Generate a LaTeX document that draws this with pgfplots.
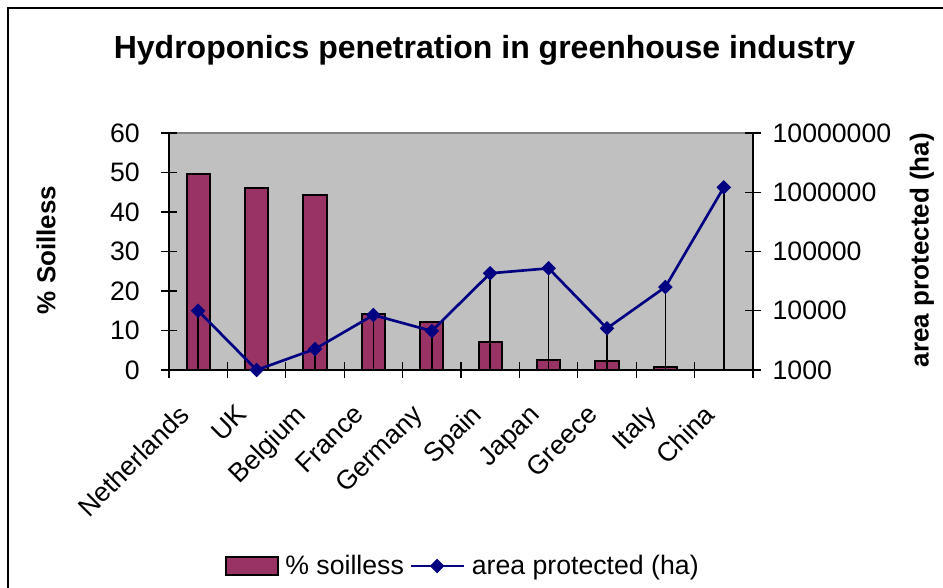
\documentclass[border=0pt]{standalone}
\usepackage{pgfplots}
\pgfplotsset{compat=1.18}
\usepackage{pgfplotstable}
\usepackage{fontspec}
\setmainfont{Liberation Sans}
\definecolor{barcol}{HTML}{993366}
\definecolor{linecol}{HTML}{000080}
\definecolor{plotbg}{HTML}{C0C0C0}
\definecolor{plotedge}{HTML}{808080}
\pgfplotsset{
 barlegend/.style={legend image code/.code={\draw[##1] (0pt,-6.4pt) rectangle (39pt,6.4pt);}},
 linelegend/.style={legend image code/.code={\draw[##1, mark repeat=2, mark phase=2] plot coordinates {(0pt,0pt) (20pt,0pt) (40pt,0pt)};}},
}
\pgfplotstableread{
x soil area
0 49.5 10000
1 46.0 1000
2 44.4 2260
3 14.1 8470
4 12.1 4550
5 7.2 42900
6 2.5 52000
7 2.3 5050
8 0.8 25200
9 0.1 1210000
}\datatable
\newcommand{\tickfont}{\fontsize{20}{24}\selectfont}
\begin{document}
\begin{tikzpicture}
\useasboundingbox (0pt,0pt) rectangle (707.25pt,440.25pt);
\draw[line width=1.1pt] (6pt,-10pt) -- (6pt,434.25pt) -- (720pt,434.25pt);
\node[anchor=base, font=\fontsize{24}{28}\selectfont\bfseries] at (363.4pt,396pt) {Hydroponics penetration in greenhouse industry};
\node[rotate=90, anchor=center, font=\fontsize{19.5}{23}\selectfont\bfseries] at (34.5pt,252.75pt) {\% Soilless};
\node[rotate=90, anchor=center, font=\fontsize{19.5}{23}\selectfont\bfseries] at (691.5pt,252.75pt) {area protected (ha)};
\begin{axis}[
 at={(126.75pt,162.75pt)}, anchor=south west,
 scale only axis, width=438pt, height=177.75pt,
 xmin=-0.5, xmax=9.5, ymin=0, ymax=60,
 axis x line*=bottom, axis y line*=left,
 axis background/.style={fill=plotbg, draw=plotedge, line width=1.1pt},
 axis line style={black, line width=1.1pt},
 tick align=center, major tick length=12pt, minor tick length=12pt,
 tick style={black, line width=1pt},
 major x tick style={draw=none},
 xtick={-0.36,0.64,1.64,2.64,3.64,4.64,5.64,6.64,7.64,8.64},
 xticklabels={Netherlands,UK,Belgium,France,Germany,Spain,Japan,Greece,Italy,China},
 minor xtick={-0.5,0.5,1.5,2.5,3.5,4.5,5.5,6.5,7.5,8.5,9.5},
 ytick={0,10,20,30,40,50,60},
 yticklabels={0,10,20,30,40,50,60},
 tick label style={font=\tickfont, inner sep=0pt},
 xticklabel style={rotate=45, anchor=north east},
 xticklabel shift=18.5pt,
 yticklabel style={anchor=east},
 yticklabel shift=15.75pt,
]
\addplot[ybar, bar width=0.4, fill=barcol, draw=black, line width=1.5pt] table[x=x,y=soil]{\datatable};
\end{axis}
\begin{axis}[
 at={(126.75pt,162.75pt)}, anchor=south west,
 scale only axis, width=438pt, height=177.75pt,
 xmin=-0.5, xmax=9.5, ymode=log, ymin=1000, ymax=10000000,
 log origin y=infty,
 axis x line=none, axis y line*=right,
 axis line style={black, line width=1.1pt},
 tick align=center, major tick length=12pt,
 tick style={black, line width=1pt},
 minor y tick style={draw=none},
 ytick={1000,10000,100000,1000000,10000000},
 yticklabels={1000,10000,100000,1000000,10000000},
 tick label style={font=\tickfont, inner sep=0pt},
 yticklabel style={anchor=west},
 yticklabel shift=8.5pt,
 clip=false,
 legend columns=2,
 legend cell align=left,
 legend style={at={(0.504,-0.827)}, anchor=center, draw=none, fill=none, font=\tickfont, inner sep=0pt, nodes={inner sep=2.5pt}, /tikz/every odd column/.append style={column sep=2.5pt}, /tikz/every even column/.append style={column sep=1.5pt}},
]
\addplot[ycomb, black, line width=1.1pt, mark=none, forget plot] table[x=x,y=area]{\datatable};
\addlegendimage{barlegend, fill=barcol, draw=black, line width=1.5pt}
\addlegendentry{\% soilless}
\addplot[linelegend, linecol, line width=2pt, mark=square*, mark size=3.6pt, mark options={rotate=45, fill=linecol, line width=0.5pt}] table[x=x,y=area]{\datatable};
\addlegendentry{area protected (ha)}
\end{axis}
\end{tikzpicture}
\end{document}
